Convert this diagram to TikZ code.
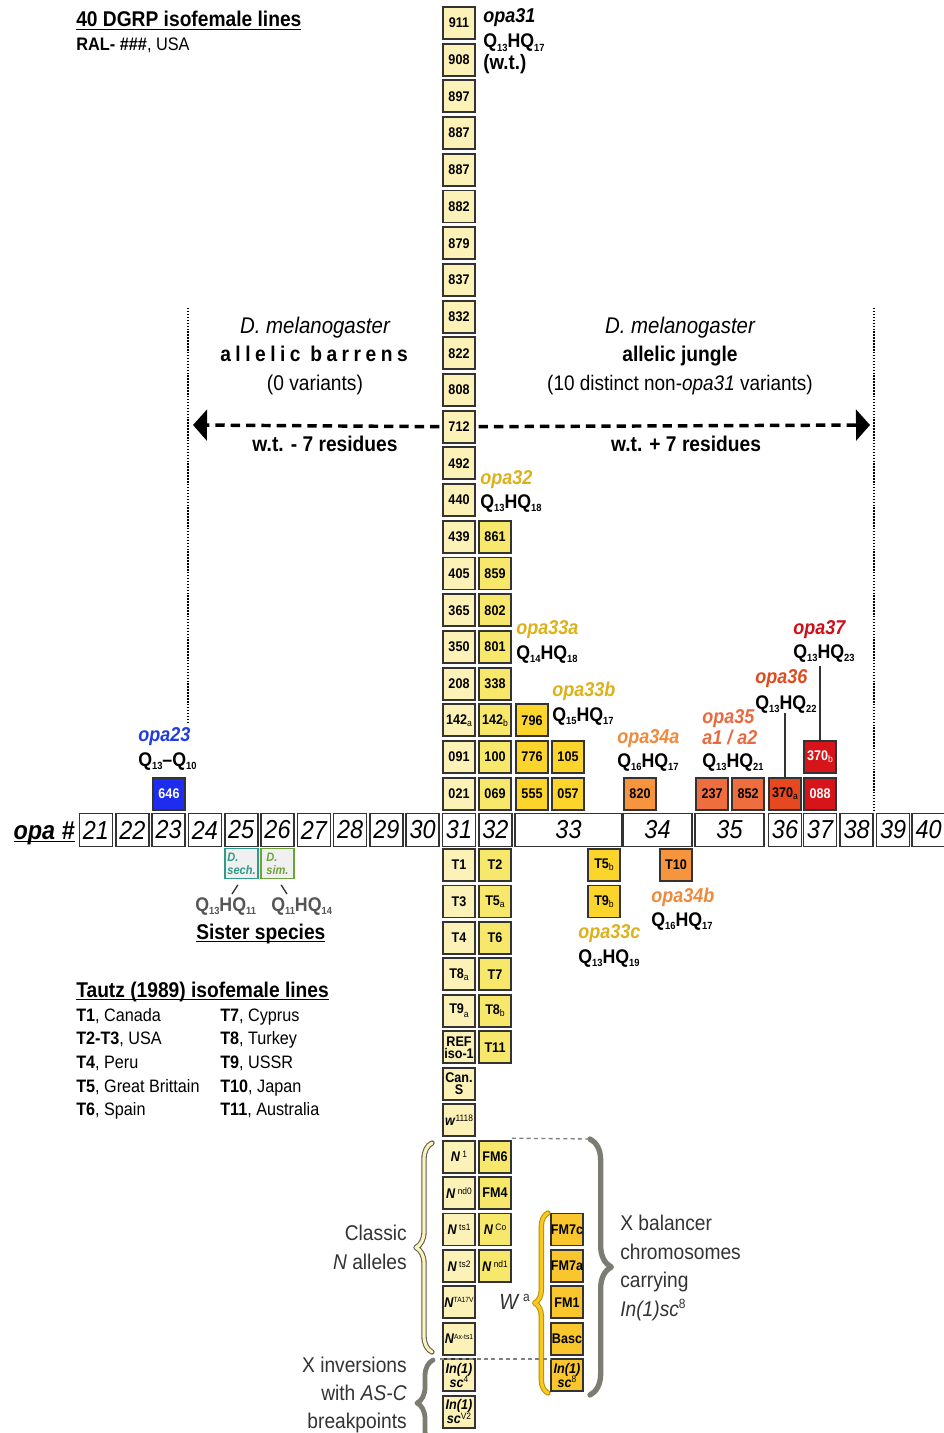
\documentclass[tikz,border=0pt]{standalone}
\usepackage{fontspec}
\setmainfont{Liberation Sans}[FakeStretch=0.9]
\usetikzlibrary{arrows.meta,decorations.pathreplacing}
\definecolor{pale}{HTML}{FCF2B8}
\definecolor{ylw}{HTML}{F7E86C}
\definecolor{gold}{HTML}{FCD52C}
\definecolor{goldb}{HTML}{F9C62E}
\definecolor{orgA}{HTML}{F7953F}
\definecolor{orgB}{HTML}{EE6E40}
\definecolor{orgC}{HTML}{E6491F}
\definecolor{redA}{HTML}{D8141B}
\definecolor{bluA}{HTML}{1E2CF0}
\definecolor{bord}{HTML}{333333}
\definecolor{tealA}{HTML}{2F9B88}
\definecolor{grnA}{HTML}{6BA539}
\definecolor{lgold}{HTML}{DDB11A}
\definecolor{lorg}{HTML}{EF8A3C}
\definecolor{lorgB}{HTML}{E86B3F}
\definecolor{lorgC}{HTML}{E04B1D}
\definecolor{lred}{HTML}{CB1018}
\definecolor{lblue}{HTML}{1F3DE0}
\definecolor{brg}{HTML}{7C7C72}
\definecolor{txg}{HTML}{333333}
\definecolor{qg}{HTML}{555555}
\definecolor{wagold}{HTML}{F8C81E}
\definecolor{wadark}{HTML}{B88E00}
\newcommand{\myfs}[1]{\fontsize{#1}{#1}\selectfont}
\newcommand{\mysub}[1]{\raisebox{-1.6pt}{\myfs{7.2}\mdseries#1}}
\newcommand{\mysup}[1]{\raisebox{3.2pt}{\myfs{7}\mdseries\upshape#1}}
\newcommand{\qs}[1]{\raisebox{-2.8pt}{\myfs{7.8}#1}}
\newcommand{\myQH}[2]{Q\qs{#1}HQ\qs{#2}}
\newcommand{\myul}[1]{\setbox0\hbox{#1}\rlap{\rule[-2.6pt]{\wd0}{1.2pt}}\box0}
\begin{document}
\begin{tikzpicture}[x=0.75pt,y=-0.75pt,
  bx/.style={draw=bord,line width=1.4pt,minimum width=24pt,minimum height=24pt,inner sep=0pt,align=center,font=\bfseries\fontsize{10.5}{10}\selectfont},
  axb/.style={draw=bord,line width=1.2pt,fill=white,minimum height=24.75pt,minimum width=24.75pt,inner sep=0pt,font=\itshape\myfs{19.5}},
  txt/.style={inner sep=0pt,anchor=base west},
  txe/.style={inner sep=0pt,anchor=base east},
  txc/.style={inner sep=0pt,anchor=base},
  opa/.style={txt,font=\bfseries\itshape\myfs{15}},
  qf/.style={txt,font=\bfseries\myfs{14.8}},
  head/.style={font=\bfseries\myfs{16}},
  brc/.style={decorate,decoration={brace,amplitude=#1},line cap=round,line join=round},
  dasharr/.style={line width=2.6pt,dash pattern=on 7pt off 4.5pt,shorten <=2pt,-{Triangle[length=10.5pt,width=23pt]}},
  dotline/.style={line width=1.3pt,dash pattern=on 1.1pt off 1.1pt},
  vline/.style={draw=bord,line width=0.9pt}
]
\useasboundingbox (0,0) rectangle (943,1433);
\fill[white] (0,0) rectangle (943,1433);

% ---------- column 31 (above axis) ----------
\foreach \lab [count=\i from 0] in {911,908,897,887,887,882,879,837,832,822,808,712,492,440,439,405,365,350,208,{142\mysub{a}},091,021}
  \node[bx,fill=pale] (u\i) at (459,{23+36.7*\i}) {\lab};
% column 32 (above axis)
\foreach \lab [count=\i from 14] in {861,859,802,801,338,{142\mysub{b}},100,069}
  \node[bx,fill=ylw] (v\i) at (495,{23+36.7*\i}) {\lab};
% opa33
\node[bx,fill=gold] (b796) at (532,720.3) {796};
\node[bx,fill=gold] (b776) at (532,757) {776};
\node[bx,fill=gold] (b555) at (532,793.7) {555};
\node[bx,fill=gold] (b105) at (568,757) {105};
\node[bx,fill=gold] (b057) at (568,793.7) {057};
% opa34, 35, 36, 37
\node[bx,fill=orgA] (b820) at (640,793.7) {820};
\node[bx,fill=orgB] (b237) at (712,793.7) {237};
\node[bx,fill=orgB] (b852) at (748,793.7) {852};
\node[bx,fill=orgC] (b370a) at (785,793.7) {370\mysub{a}};
\node[bx,fill=redA,text=white] (b088) at (820,793.7) {088};
\node[bx,fill=redA,text=white] (b370b) at (820,757) {370\mysub{b}};
% opa23
\node[bx,fill=bluA,text=white] (b646) at (169,793.7) {646};

% ---------- axis ----------
\node[txe,font=\bfseries\itshape\myfs{19.5}] (opah) at (75,839) {\myul{opa \#}};
\foreach \n [count=\k from 0] in {21,22,23,24,25,26,27,28,29,30,31,32}
  \node[axb] (x\n) at ({96+36.3*\k},830) {\n};
\node[axb,minimum width=80.25pt] (x33) at (568.5,830) {33};
\node[axb,minimum width=51.75pt] (x34) at (657.5,830) {34};
\node[axb,minimum width=51.75pt] (x35) at (729.5,830) {35};
\node[axb] (x36) at (785,830) {36};
\node[axb] (x37) at (820,830) {37};
\node[axb] (x38) at (856.5,830) {38};
\node[axb] (x39) at (893,830) {39};
\node[axb] (x40) at (928.5,830) {40};

% ---------- below axis ----------
\foreach \lab [count=\j from 0] in {T1,T3,T4,{T8\mysub{a}},{T9\raisebox{-2.8pt}{\myfs{7.2}\mdseries a}},{\myfs{10.5}REF\\[-1pt]\myfs{10.5}iso-1},{Can.\\[-1pt]S},{\textit{w}\mysup{1118}},{\textit{N}\,\mysup{1}},{\textit{N}\,\mysup{nd0}},{\textit{N}\,\mysup{ts1}},{\textit{N}\,\mysup{ts2}},{\textit{N}\mysup{\myfs{5.6}TA17V}},{\textit{N}\mysup{\myfs{5.6}Ax-ts1}},{\textit{In(1)}\\[-1pt]\textit{sc}\mysup{4}},{\textit{In(1)}\\[-1pt]\textit{sc}\mysup{V2}}}
  \node[bx,fill=pale] (d\j) at (459,{865+36.45*\j}) {\lab};
\foreach \lab [count=\j from 0] in {T2,{T5\mysub{a}},T6,T7,{T8\mysub{b}},T11}
  \node[bx,fill=ylw] (e\j) at (495,{865+36.45*\j}) {\lab};
\foreach \lab [count=\j from 8] in {FM6,FM4,{\textit{N}\,\mysup{Co}},{\textit{N}\,\mysup{nd1}}}
  \node[bx,fill=ylw] (e\j) at (495,{865+36.45*\j}) {\lab};
\foreach \lab [count=\j from 10] in {FM7c,FM7a,FM1,Basc,{\textit{In(1)}\\[-1pt]\textit{sc}\mysup{8}}}
  \node[bx,fill=goldb] (f\j) at (567,{865+36.45*\j}) {\lab};
\node[bx,fill=gold] (bT5b) at (604,865) {T5\mysub{b}};
\node[bx,fill=gold] (bT9b) at (604,901.5) {T9\mysub{b}};
\node[bx,fill=orgA] (bT10) at (676,865) {T10};

% sister species boxes
\node[bx,line width=1.2pt,fill=black!6,draw=tealA,text=tealA,minimum width=24.75pt,minimum height=22.5pt,align=left,font=\bfseries\itshape\fontsize{9.2}{9.6}\selectfont] (sech) at (241.5,863.5) {D.\\sech.};
\node[bx,line width=1.2pt,fill=black!6,draw=grnA,text=grnA,minimum width=24.75pt,minimum height=22.5pt,align=left,font=\bfseries\itshape\fontsize{9.2}{9.6}\selectfont] (sim) at (277.5,863.5) {D.\\sim.};
\node[qf,text=qg] (qsech) at (195,911) {\myQH{13}{11}};
\node[qf,text=qg] (qsim) at (271,911) {\myQH{11}{14}};
\coordinate (s1) at (232,894);
\coordinate (s2) at (287,894);
\draw[line width=1pt,draw=bord,shorten <=5pt] (sech.south) -- (s1);
\draw[line width=1pt,draw=bord,shorten <=5pt] (sim.south) -- (s2);
\node[txt,head] (sis) at (196,939) {\myul{Sister species}};

% ---------- headings ----------
\node[txt,head] (dgrp) at (76,27) {\myul{40 DGRP isofemale lines}};
\node[txt,font=\myfs{13.6}] (ral) at (76,51) {\textbf{RAL- \#\#\#}, USA};

\node[opa] (o31) at (483,23) {opa31};
\node[qf] (q31) at (483,48) {\myQH{13}{17}};
\node[txt,font=\bfseries\myfs{15.6}] (wt) at (483,70) {(w.t.)};

\node[txc,font=\itshape\myfs{17}] (dmL) at (315,334) {D. melanogaster};
\node[txc,font=\bfseries\myfs{16}\addfontfeature{LetterSpace=21}] (bar) at (314,362) {allelic barrens};
\node[txc,font=\myfs{16}] (zv) at (315,390) {(0 variants)};
\node[txc,font=\itshape\myfs{17}] (dmR) at (680,334) {D. melanogaster};
\node[txc,font=\bfseries\myfs{16}] (jun) at (680,362) {allelic jungle};
\node[txc,font=\myfs{15.8}] (tv) at (680,390) {(10 distinct non-\textit{opa31} variants)};

\coordinate (aL) at (193,425);
\coordinate (aR) at (870,425);
\draw[dasharr] (u11.west) -- (aL);
\draw[dasharr] (u11.east) -- (aR);
\node[txc,head] (wtm) at (325,451) {w.t. - 7 residues};
\node[txc,head] (wtp) at (686,451) {w.t. + 7 residues};

\coordinate (dl1) at (188,308);
\coordinate (dl2) at (188,722);
\coordinate (dr1) at (874,308);
\coordinate (dr2) at (874,812);
\draw[dotline] (dl1) -- (dl2);
\draw[dotline] (dr1) -- (dr2);

% ---------- allele labels ----------
\node[opa,text=lgold] (o32) at (480,484) {opa32};
\node[qf] (q32) at (480,508) {\myQH{13}{18}};
\node[opa,text=lgold] (o33a) at (516,634) {opa33a};
\node[qf] (q33a) at (516,659) {\myQH{14}{18}};
\node[opa,text=lgold] (o33b) at (552,696) {opa33b};
\node[qf] (q33b) at (552,721) {\myQH{15}{17}};
\node[opa,text=lorg] (o34a) at (617,743) {opa34a};
\node[qf] (q34a) at (617,767) {\myQH{16}{17}};
\node[opa,text=lorgB] (o35) at (702,723) {opa35};
\node[opa,text=lorgB] (o35b) at (702,744) {a1 / a2};
\node[qf] (q35) at (702,767) {\myQH{13}{21}};
\node[opa,text=lorgC] (o36) at (755,683) {opa36};
\node[qf] (q36) at (755,709) {\myQH{13}{22}};
\node[opa,text=lred] (o37) at (793,634) {opa37};
\node[qf] (q37) at (793,658) {\myQH{13}{23}};
\draw[vline] (b370a.north) -- (b370a.north |- q36.south);
\draw[vline] (b370b.north) -- ([yshift=-3pt]b370b.north |- q37.south);
\node[opa,text=lblue] (o23) at (138,741) {opa23};
\node[qf] (q23) at (138,766) {Q\qs{13}--Q\qs{10}};
\node[opa,text=lgold] (o33c) at (578,938) {opa33c};
\node[qf] (q33c) at (578,963) {\myQH{13}{19}};
\node[opa,text=lorg] (o34b) at (651,902) {opa34b};
\node[qf] (q34b) at (651,926) {\myQH{16}{17}};

% ---------- Tautz legend ----------
\node[txt,head] (tz) at (76,997) {\myul{Tautz (1989) isofemale lines}};
\foreach \l/\r [count=\k from 0] in {{\textbf{T1}, Canada}/{\textbf{T7}, Cyprus},{\textbf{T2-T3}, USA}/{\textbf{T8}, Turkey},{\textbf{T4}, Peru}/{\textbf{T9}, USSR},{\textbf{T5}, Great Brittain}/{\textbf{T10}, Japan},{\textbf{T6}, Spain}/{\textbf{T11}, Australia}}{
  \node[txt,font=\myfs{13.5}] (lg\k) at (76,{1021+23.7*\k}) {\l};
  \node[txt,font=\myfs{13.5}] (rg\k) at (220,{1021+23.7*\k}) {\r};
}

% ---------- bottom braces and labels ----------
\draw[brc=12pt,draw=bord!80,line width=4pt] (432,1352) -- (432,1143);
\draw[brc=12pt,draw=pale,line width=2.4pt] (432,1352) -- (432,1143);
\node[txe,font=\myfs{16},text=txg] (cl1) at (407,1240) {Classic};
\node[txe,font=\myfs{16},text=txg] (cl2) at (407,1269) {\textit{N} alleles};

\draw[brc=12pt,draw=brg,line width=3.6pt] (433,1446) -- (433,1360);
\node[txe,font=\myfs{16},text=txg] (xi1) at (407,1372) {X inversions};
\node[txe,font=\myfs{16},text=txg] (xi2) at (407,1400) {with \textit{AS-C}};
\node[txe,font=\myfs{16},text=txg] (xi3) at (407,1428) {breakpoints};

\draw[brc=10pt,draw=wadark,line width=4pt] (548,1393) -- (548,1213);
\draw[brc=10pt,draw=wagold,line width=2.5pt] (548,1393) -- (548,1213);
\node[txt,font=\myfs{16.5},text=txg] (wa) at (499,1309) {\textit{W}\,\raisebox{5.5pt}{\myfs{10}a}};

\coordinate (bt) at (590,1139);
\coordinate (bb) at (590,1395);
\draw[brc=16pt,draw=brg,line width=4pt] (bt) -- (bb);
\draw[draw=gray,line width=1pt,dash pattern=on 3pt off 2.5pt] (e8.north east) ++(0,-1.5) -- (bt);
\coordinate (dl) at (440,1359);
\draw[draw=gray,line width=1pt,dash pattern=on 3pt off 2.5pt] (dl) -- (dl -| f14.west);

\node[txt,font=\myfs{16},text=txg] (xb1) at (620,1230) {X balancer};
\node[txt,font=\myfs{16},text=txg] (xb2) at (620,1259) {chromosomes};
\node[txt,font=\myfs{16},text=txg] (xb3) at (620,1287) {carrying};
\node[txt,font=\myfs{16},text=txg] (xb4) at (620,1316) {\textit{In(1)sc}\raisebox{5.5pt}{\myfs{10}8}};
\end{tikzpicture}
\end{document}
